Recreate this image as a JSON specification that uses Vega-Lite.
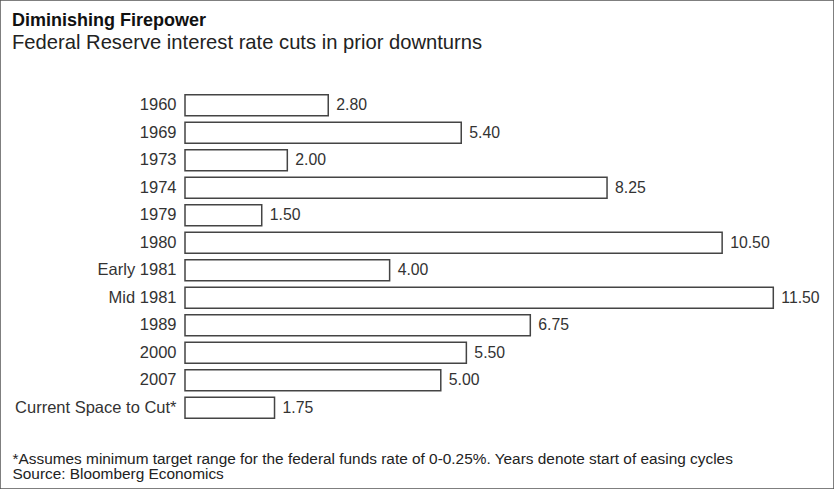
{
  "$schema": "https://vega.github.io/schema/vega-lite/v6.json",
  "width": 834,
  "height": 489,
  "autosize": "none",
  "padding": 0,
  "background": "white",
  "config": {"view": {"stroke": "#555", "strokeWidth": 1.5}, "font": "Liberation Sans"},
  "title": {
    "text": "Diminishing Firepower",
    "subtitle": "Federal Reserve interest rate cuts in prior downturns",
    "anchor": "start",
    "frame": "group",
    "dx": 12,
    "offset": -53,
    "font": "Liberation Sans",
    "fontSize": 18,
    "fontWeight": "bold",
    "color": "#111",
    "subtitleFont": "Liberation Sans",
    "subtitleFontSize": 20.2,
    "subtitleColor": "#222",
    "subtitlePadding": 3
  },
  "data": {
    "values": [
      {"period": "1960", "cut": 2.80},
      {"period": "1969", "cut": 5.40},
      {"period": "1973", "cut": 2.00},
      {"period": "1974", "cut": 8.25},
      {"period": "1979", "cut": 1.50},
      {"period": "1980", "cut": 10.50},
      {"period": "Early 1981", "cut": 4.00},
      {"period": "Mid 1981", "cut": 11.50},
      {"period": "1989", "cut": 6.75},
      {"period": "2000", "cut": 5.50},
      {"period": "2007", "cut": 5.00},
      {"period": "Current Space to Cut*", "cut": 1.75}
    ]
  },
  "encoding": {
    "y": {
      "field": "period",
      "type": "nominal",
      "sort": null,
      "scale": {"range": [91.5, 421.5], "paddingInner": 0.24, "paddingOuter": 0.12},
      "axis": {
        "title": null,
        "orient": "left",
        "offset": -181,
        "domain": false,
        "ticks": false,
        "grid": false,
        "labelPadding": 5,
        "labelFont": "Liberation Sans",
        "labelFontSize": 16.5,
        "labelColor": "#333"
      }
    },
    "x": {
      "field": "cut",
      "type": "quantitative",
      "scale": {"domain": [0, 11.5], "range": [185, 773.3], "nice": false, "zero": true},
      "axis": {
        "orient": "bottom",
        "labels": false,
        "ticks": false,
        "domain": false,
        "grid": false,
        "title": ["*Assumes minimum target range for the federal funds rate of 0-0.25%. Years denote start of easing cycles", "Source: Bloomberg Economics"],
        "titleAnchor": "start",
        "titleAlign": "left",
        "titleX": 12,
        "titleY": -26,
        "titleBaseline": "alphabetic",
        "titleFont": "Liberation Sans",
        "titleFontSize": 15.4,
        "titleFontWeight": "normal",
        "titleLineHeight": 15.6,
        "titleColor": "#222"
      }
    }
  },
  "layer": [
    {
      "mark": {"type": "bar", "fill": "white", "stroke": "#444", "strokeWidth": 1.5}
    },
    {
      "mark": {"type": "text", "align": "left", "baseline": "middle", "dx": 8, "font": "Liberation Sans", "fontSize": 15.8, "color": "#333"},
      "encoding": {"text": {"field": "cut", "type": "quantitative", "format": ".2f"}}
    }
  ]
}
